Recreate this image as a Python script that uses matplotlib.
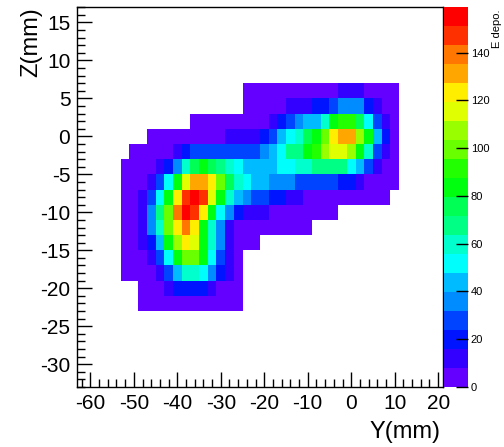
import numpy as np
import matplotlib
matplotlib.use('Agg')
import matplotlib.pyplot as plt
from matplotlib.colors import ListedColormap, Normalize, hsv_to_rgb
from matplotlib.ticker import MultipleLocator

plt.rcParams['font.family'] = ['Liberation Sans', 'DejaVu Sans']
plt.rcParams['axes.unicode_minus'] = False

# Histogram binning (mm)
bin_width = 2
y_first_edge = -53
z_first_edge = -23

# Deposited energy per bin, rows from top (Z=6) to bottom (Z=-22), 32 columns Y=-52..10
energy_rows = [
    [0,0,0,0,0,0,0,0,0,0,0,0,0,0, 4,4,4,4,4,4,4,4,4,4,4, 12,12,12, 4,4,4,4],
    [0,0,0,0,0,0,0,0,0,0,0,0,0,0, 4,4,4,4,4, 12,12,12, 20,20, 28, 36,36,36, 20, 12, 4,4],
    [0,0,0,0,0,0,0,0, 4,4,4,4,4,4,4,4,4, 12, 20, 28, 36, 43,43, 59, 83, 91,91, 75, 51, 28, 12, 4],
    [0,0,0, 4,4,4,4,4,4,4,4,4, 12,12,12,12, 20, 28, 43, 51, 59, 75, 83, 99, 122, 130,130, 107, 83, 43, 20, 4],
    [0, 4,4,4,4,4, 12, 20, 28,28,28,28,28,28,28,28, 36, 43, 51, 67, 70, 83, 95, 107, 114,114, 107, 83, 59, 28, 12, 4],
    [4,4,4,4, 12, 20, 36, 59, 75, 83, 75, 67, 59, 51, 43,43,43,43, 51,51, 59,59, 67,67,67,67, 51, 43, 28, 12, 4,4],
    [4,4,4, 12, 28, 51, 83, 114, 130,130, 122, 99, 75, 59, 51, 43,43, 36,36,36, 28,28,28,28,28, 20,20, 12, 4,4,4,4],
    [4,4, 12, 28, 51, 83, 122, 146, 154, 146, 114, 83, 59, 43, 36, 28,28, 20,20, 12,12, 4,4,4,4,4,4,4,4,4,4, 0],
    [4,4, 12, 36, 67, 99, 138, 159, 146, 122, 83, 51, 36, 20, 12,12,12, 4,4,4,4,4,4,4,4, 0,0,0,0,0,0,0],
    [4,4, 12, 36, 59, 99, 122, 138, 122, 83, 59, 36, 12, 4,4,4,4,4,4,4,4,4, 0,0,0,0,0,0,0,0,0,0],
    [4,4, 12, 20, 43, 83, 107, 122, 114, 83, 59, 36, 12, 4,4,4, 0,0,0,0,0,0,0,0,0,0,0,0,0,0,0,0],
    [4,4,4, 12, 28, 51, 83, 99,99, 83, 51, 28, 12, 4, 0,0,0,0,0,0,0,0,0,0,0,0,0,0,0,0,0,0],
    [4,4,4,4, 12, 28, 43, 59,59, 51, 36, 20, 12, 4, 0,0,0,0,0,0,0,0,0,0,0,0,0,0,0,0,0,0],
    [0,0, 4,4,4, 12, 20,20,20,20, 12, 4,4,4, 0,0,0,0,0,0,0,0,0,0,0,0,0,0,0,0,0,0],
    [0,0, 4,4,4,4,4,4,4,4,4,4,4,4, 0,0,0,0,0,0,0,0,0,0,0,0,0,0,0,0,0,0],
]

x_ticks = [-60, -50, -40, -30, -20, -10, 0, 10, 20]
y_ticks = [-30, -25, -20, -15, -10, -5, 0, 5, 10, 15]
cbar_ticks = [0, 20, 40, 60, 80, 100, 120, 140]

energy = np.array(energy_rows, dtype=float)[::-1]
n_z, n_y = energy.shape
y_edges = y_first_edge + bin_width * np.arange(n_y + 1)
z_edges = z_first_edge + bin_width * np.arange(n_z + 1)
masked = np.ma.masked_less_equal(energy, 0)

# ROOT "pretty palette" (SetPalette(1)) with 20 contour levels
n_levels = 20
pal_cols = []
for k in range(n_levels):
    idx = int((k + 0.99) * 50 / n_levels)
    hue = 280 - (idx + 1) * 5.6
    pal_cols.append(hsv_to_rgb((hue / 360.0, 1.0, 1.0)))
cmap = ListedColormap(pal_cols)
norm = Normalize(vmin=0, vmax=energy.max())

W, H = 504, 447
fig = plt.figure(figsize=(W / 100, H / 100), dpi=100)
ax_l, ax_r, ax_t, ax_b = 77.3, 442.5, 7.3, 387.0
ax = fig.add_axes([ax_l / W, 1 - ax_b / H, (ax_r - ax_l) / W, (ax_b - ax_t) / H])
cax = fig.add_axes([443.5 / W, 1 - ax_b / H, 24.5 / W, (ax_b - ax_t) / H])

mesh = ax.pcolormesh(y_edges, z_edges, masked, cmap=cmap, norm=norm,
                     edgecolors='none', antialiased=False)

ax.set_xlim(-63, 21)
ax.set_ylim(-33, 17)
ax.set_xticks(x_ticks)
ax.set_yticks(y_ticks)
ax.set_xticklabels([str(v) for v in x_ticks])
ax.set_yticklabels([str(v) for v in y_ticks])
ax.xaxis.set_minor_locator(MultipleLocator(2))
ax.yaxis.set_minor_locator(MultipleLocator(1))
ax.tick_params(which='both', direction='in', top=False, right=False, width=1, color='black')
ax.tick_params(which='major', length=11, labelsize=15, pad=5)
ax.tick_params(which='minor', length=6)
for s in ax.spines.values():
    s.set_linewidth(1)

fig.text(440 / W, 1 - 438 / H, 'Y(mm)', ha='right', va='baseline', fontsize=17)
fig.text(31 / W, 1 - 7 / H, 'Z(mm)', ha='center', va='top', rotation=90, fontsize=17)

cb = fig.colorbar(mesh, cax=cax, ticks=cbar_ticks)
cb.outline.set_visible(False)
cax.tick_params(direction='in', length=9, width=1, labelsize=8, pad=2, color='black')
cax.minorticks_off()
fig.text(497 / W, 1 - 10 / H, 'E depo.', ha='center', va='top', rotation=90, fontsize=8)

fig.savefig('out.png', dpi=100)
